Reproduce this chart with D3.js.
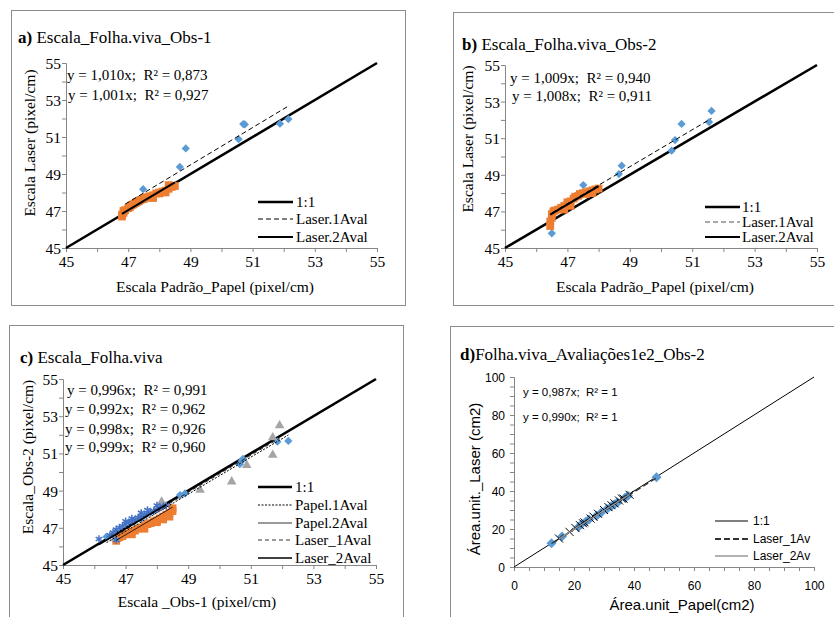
<!DOCTYPE html>
<html>
<head>
<meta charset="utf-8">
<title>Escala Folha viva</title>
<script src="https://d3js.org/d3.v7.min.js"></script>
<style>
  body { margin: 0; background: #fff; }
  svg { display: block; }
</style>
</head>
<body>
<script>
// ---- data ----
// panel a: Escala_Folha.viva_Obs-1
var aLaser1 = [[46.9,46.9],[47.2,47.5],[47.48,48.18],[48.66,49.38],[48.85,50.38],[50.55,50.88],[50.7,51.7],[50.75,51.68],[51.88,51.72],[52.15,51.97]];
var aLaser2 = [[46.8,46.7],[46.8,46.8],[46.85,46.9],[46.85,47.0],[46.9,47.05],[47.0,47.15],[47.05,47.2],[47.1,47.3],[47.15,47.35],[47.2,47.4],
  [47.25,47.45],[47.3,47.5],[47.35,47.55],[47.4,47.6],[47.5,47.65],[47.55,47.7],[47.6,47.75],[47.7,47.8],[47.8,47.85],[47.9,47.95],
  [48.0,48.0],[48.1,48.05],[48.2,48.1],[48.3,48.2],[48.4,48.3],[48.5,48.35],[48.3,48.4],[47.8,47.7],[48.0,47.95],[48.2,48.0]];
var aEq = ["y = 1,010x;  R² = 0,873", "y = 1,001x;  R² = 0,927"];
var aSlopes = [1.010, 1.001];

// panel b: Escala_Folha.viva_Obs-2
var bLaser1 = [[46.5,45.8],[47.51,48.44],[48.65,49.04],[48.74,49.5],[50.34,50.32],[50.45,50.9],[50.66,51.78],[51.54,51.88],[51.62,52.49]];
var bLaser2 = [[46.45,46.2],[46.45,46.45],[46.5,46.65],[46.5,46.85],[46.55,47.0],[46.6,47.05],[46.7,47.1],[46.8,47.2],[46.9,47.3],[47.0,47.35],
  [47.0,47.5],[47.1,47.55],[47.2,47.7],[47.25,47.8],[47.35,47.85],[47.4,47.95],[47.5,48.0],[47.6,48.05],[47.7,48.1],[47.8,48.15],
  [47.9,48.2],[48.0,48.25],[47.6,47.95],[47.8,48.0],[46.9,47.1],[47.1,47.3]];
var bEq = ["y = 1,009x;  R² = 0,940", "y = 1,008x;  R² = 0,911"];
var bSlopes = [1.009, 1.008];

// panel c: Escala_Folha.viva (Obs-1 vs Obs-2)
var cPapel1 = [[46.39,46.52],[47.5,47.5],[48.74,48.76],[48.9,48.85],[50.65,50.42],[50.71,50.6],[50.75,50.7],[51.85,51.63],[52.2,51.67]];
var cPapel2 = [[46.7,46.3],[46.75,46.45],[46.8,46.5],[46.9,46.55],[47.0,46.65],[47.1,46.7],[47.2,46.8],[47.3,46.85],[47.4,46.95],[47.5,47.0],
  [47.6,47.1],[47.7,47.2],[47.8,47.25],[47.9,47.35],[48.0,47.4],[48.1,47.5],[48.2,47.6],[48.3,47.7],[48.4,47.8],[48.5,47.9],
  [48.5,48.05],[48.4,47.6],[48.2,47.45],[48.0,47.3],[47.6,46.95],[47.2,46.65]];
var cLaser1 = [[46.66,46.42],[48.15,48.4],[49.38,49.03],[50.39,49.48],[50.87,50.37],[51.7,50.91],[51.7,51.85],[51.92,52.5]];
var cLaser2 = [[46.15,46.4],[46.7,46.35],[46.5,46.6],[46.6,46.75],[46.7,46.9],[46.8,47.0],[46.9,47.1],[47.0,47.2],[47.1,47.3],[47.2,47.35],
  [47.3,47.45],[47.4,47.55],[47.5,47.6],[47.6,47.7],[47.7,47.8],[47.8,47.85],[47.9,47.9],[48.0,48.0],[48.1,48.1],[48.2,48.15],
  [48.3,48.2],[47.5,47.8],[47.2,47.5],[48.0,48.2],[47.0,47.35],[47.7,47.95]];
var cEq = ["y = 0,996x;  R² = 0,991", "y = 0,992x;  R² = 0,962", "y = 0,998x;  R² = 0,926", "y = 0,999x;  R² = 0,960"];
var cSlopes = [0.996, 0.992, 0.998, 0.999];

// panel d: Folha.viva_Avaliações1e2_Obs-2
var dLaser1 = [[12.5,12.5],[16,16],[21.5,21],[22.5,22.5],[24,24],[25,25],[27.5,27],[29,28.5],[31,30.5],[32.5,32],[33.5,33],[34.5,34],[37,36.5],[38,37.5],[47.5,47.2]];
var dLaser2 = [[15,15],[18.5,18.5],[20.5,20.5],[22,22],[23,23],[23.5,23.5],[25.5,25.5],[26.5,26.5],[28,28],[30,30],[31.5,31.5],[32.5,32.5],[33.5,33.5],[35,35],[36,36],[36.5,36],[38.5,38]];
var dEq = ["y = 0,987x;  R² = 1", "y = 0,990x;  R² = 1"];
var dSlopes = [0.987, 0.990];

var pixTicks = [45, 47, 49, 51, 53, 55];
var areaTicks = [0, 20, 40, 60, 80, 100];

var blue = "#5B9BD5", orange = "#ED7D31", gray = "#A5A5A5", dblue = "#4472C4";
var axisGray = "#868686";
var serif = "Liberation Serif";
var sans = "Liberation Sans";

var svg = d3.select("body").append("svg").attr("width", 834).attr("height", 617);

// panel frames
var frames = [[11, 10, 394, 295], [453, 12, 390, 293], [9, 325, 394, 300], [450, 326, 390, 300]];
svg.selectAll("rect.frame").data(frames).enter().append("rect")
  .attr("class", "frame")
  .attr("x", function (d) { return d[0] + 0.5; })
  .attr("y", function (d) { return d[1] + 0.5; })
  .attr("width", function (d) { return d[2]; })
  .attr("height", function (d) { return d[3]; })
  .attr("fill", "none").attr("stroke", "#8c8c8c").attr("stroke-width", 1);

var diamond = d3.symbol().type(d3.symbolSquare).size(34);
var square = d3.symbol().type(d3.symbolSquare).size(60);
var tri = d3.symbol().type(d3.symbolTriangle).size(40);
var star = d3.symbol().type(d3.symbolAsterisk).size(40);
var cross = d3.symbol().type(d3.symbolTimes).size(44);

function panel(p) {
  var g = svg.append("g");
  var x = d3.scaleLinear().domain(p.domain).range(p.xr);
  var y = d3.scaleLinear().domain(p.domain).range(p.yr);

  // title
  var t = g.append("text").attr("x", p.title[0]).attr("y", p.title[1])
    .style("font-family", serif).style("font-size", "17px");
  t.append("tspan").style("font-weight", "bold").text(p.letter);
  t.append("tspan").text(p.titleText);

  // axes
  var xa = d3.axisBottom(x).tickValues(d3.range(p.domain[0], p.domain[1] + 0.001, p.minor)).tickSize(4)
    .tickFormat(function (d) { return p.ticks.indexOf(d) >= 0 ? d : ""; }).tickPadding(3);
  var ya = d3.axisLeft(y).tickValues(d3.range(p.domain[0], p.domain[1] + 0.001, p.minor)).tickSize(4)
    .tickFormat(function (d) { return p.ticks.indexOf(d) >= 0 ? d : ""; }).tickPadding(3);
  var gx = g.append("g").attr("transform", "translate(0," + p.yr[0] + ")").call(xa);
  var gy = g.append("g").attr("transform", "translate(" + p.xr[0] + ",0)").call(ya);
  [gx, gy].forEach(function (a) {
    a.attr("font-family", null).attr("font-size", null);
    a.select(".domain").attr("stroke", axisGray);
    a.selectAll(".tick line").attr("stroke", axisGray);
    a.selectAll("text").style("font-family", p.tickFont).style("font-size", p.tickSize + "px").attr("fill", "#000");
  });
  gx.selectAll("text").attr("dy", p.xdy);
  gy.selectAll("text").attr("dy", "0.35em").attr("x", -p.ydx);

  // axis titles
  g.append("text").attr("x", p.xt[0]).attr("y", p.xt[1]).attr("text-anchor", "middle")
    .style("font-family", p.labFont).style("font-size", p.labSize + "px").text(p.xLabel);
  g.append("text").attr("transform", "translate(" + p.yt[0] + "," + p.yt[1] + ") rotate(-90)")
    .attr("text-anchor", "middle")
    .style("font-family", p.labFont).style("font-size", p.labSize + "px").text(p.yLabel);

  // 1:1 line
  g.append("line").attr("x1", x(p.domain[0])).attr("y1", y(p.domain[0]))
    .attr("x2", x(p.domain[1])).attr("y2", y(p.domain[1]))
    .attr("stroke", "#000").attr("stroke-width", p.oneW);

  // points
  p.series.forEach(function (s) {
    var sel = g.append("g").selectAll("path").data(s.data).enter().append("path")
      .attr("d", s.sym)
      .attr("transform", function (d) {
        return "translate(" + x(d[0]) + "," + y(d[1]) + ")" + (s.rot ? " rotate(45)" : "");
      });
    if (s.stroke) sel.attr("fill", "none").attr("stroke", s.color).attr("stroke-width", s.sw || 1.2);
    else sel.attr("fill", s.color);
  });

  // trend lines y = b x over each series range
  p.series.forEach(function (s, i) {
    var ext = d3.extent(s.data, function (d) { return d[0]; });
    g.append("line").attr("x1", x(ext[0])).attr("y1", y(p.slopes[i] * ext[0]))
      .attr("x2", x(ext[1])).attr("y2", y(p.slopes[i] * ext[1]))
      .attr("stroke", s.lc).attr("stroke-width", s.lw).attr("stroke-dasharray", s.dash || null);
  });

  // equations
  g.selectAll("text.eq").data(p.eq).enter().append("text").attr("class", "eq")
    .attr("x", function (d, i) { return p.eqX[i]; })
    .attr("y", function (d, i) { return p.eqY[i]; })
    .style("font-family", p.eqFont).style("font-size", p.eqSize + "px").style("white-space", "pre")
    .text(function (d) { return d; });

  // legend
  var lg = g.selectAll("g.leg").data(p.legend).enter().append("g")
    .attr("transform", function (d, i) { return "translate(0," + p.legY[i] + ")"; });
  lg.append("line").attr("x1", p.legX[0]).attr("x2", p.legX[1])
    .attr("stroke", function (d) { return d.c; })
    .attr("stroke-width", function (d) { return d.w; })
    .attr("stroke-dasharray", function (d) { return d.dash || null; });
  lg.append("text").attr("x", p.legX[2]).attr("dy", "0.35em")
    .style("font-family", p.legFont).style("font-size", p.legSize + "px")
    .text(function (d) { return d.t; });
}

var common = {
  domain: [45, 55], minor: 1, ticks: pixTicks, tickFont: serif, tickSize: 15.5, xdy: "0.75em", ydx: 5,
  labFont: serif, labSize: 15.5, eqFont: serif, eqSize: 15, legFont: serif, legSize: 15, oneW: 2.6
};

panel(Object.assign({}, common, {
  letter: "a)", titleText: " Escala_Folha.viva_Obs-1", title: [18, 43],
  xr: [66, 377], yr: [248, 63],
  xLabel: "Escala Padrão_Papel (pixel/cm)", yLabel: "Escala Laser (pixel/cm)",
  xt: [215, 292], yt: [35, 143],
  series: [
    { data: aLaser1, sym: diamond, rot: true, color: blue, lc: "#000", lw: 1, dash: "5,3" },
    { data: aLaser2, sym: square, color: orange, lc: "#000", lw: 2 }
  ],
  slopes: aSlopes, eq: aEq, eqX: [67, 68], eqY: [80, 100],
  legend: [{ t: "1:1", c: "#000", w: 2.6 }, { t: "Laser.1Aval", c: "#000", w: 1, dash: "5,3" }, { t: "Laser.2Aval", c: "#000", w: 2 }],
  legX: [258, 293, 296], legY: [202, 219, 237]
}));

panel(Object.assign({}, common, {
  letter: "b)", titleText: " Escala_Folha.viva_Obs-2", title: [462, 50],
  xr: [505, 817], yr: [248, 65],
  xLabel: "Escala Padrão_Papel (pixel/cm)", yLabel: "Escala Laser (pixel/cm)",
  xt: [655, 292], yt: [473, 139],
  series: [
    { data: bLaser1, sym: diamond, rot: true, color: blue, lc: "#000", lw: 1, dash: "5,3" },
    { data: bLaser2, sym: square, color: orange, lc: "#000", lw: 2 }
  ],
  slopes: bSlopes, eq: bEq, eqX: [510, 512], eqY: [83, 101],
  legend: [{ t: "1:1", c: "#000", w: 2.6 }, { t: "Laser.1Aval", c: "#555", w: 1, dash: "5,3" }, { t: "Laser.2Aval", c: "#000", w: 2 }],
  legX: [705, 740, 742], legY: [207, 222, 237]
}));

panel(Object.assign({}, common, {
  letter: "c)", titleText: " Escala_Folha.viva", title: [20, 363],
  xr: [63, 376], yr: [565, 379],
  xLabel: "Escala _Obs-1 (pixel/cm)", yLabel: "Escala_Obs-2 (pixel/cm)",
  xt: [197, 607], yt: [33, 457],
  series: [
    { data: cPapel1, sym: diamond, rot: true, color: blue, lc: "#000", lw: 1, dash: "2,1.5" },
    { data: cPapel2, sym: square, color: orange, lc: "#000", lw: 0.8 },
    { data: cLaser1, sym: tri, color: gray, lc: "#000", lw: 0.8, dash: "4,3" },
    { data: cLaser2, sym: star, color: dblue, stroke: true, sw: 1.5, lc: "#000", lw: 1.6 }
  ],
  slopes: cSlopes, eq: cEq, eqX: [67, 65, 65, 65], eqY: [395, 414, 434, 452],
  legend: [{ t: "1:1", c: "#000", w: 2.6 }, { t: "Papel.1Aval", c: "#000", w: 1, dash: "2,1.5" },
           { t: "Papel.2Aval", c: "#000", w: 0.8 }, { t: "Laser_1Aval", c: "#000", w: 0.8, dash: "4,3" },
           { t: "Laser_2Aval", c: "#000", w: 1.6 }],
  legX: [258, 292, 295], legY: [487, 505, 523, 540, 558]
}));

panel({
  domain: [0, 100], minor: 5, ticks: areaTicks, tickFont: sans, tickSize: 12, xdy: "1.35em", ydx: 9,
  labFont: sans, labSize: 15, eqFont: sans, eqSize: 11.5, legFont: sans, legSize: 12, oneW: 1,
  letter: "d)", titleText: "Folha.viva_Avaliações1e2_Obs-2", title: [460, 360],
  xr: [514, 814], yr: [567, 377],
  xLabel: "Área.unit_Papel(cm2)", yLabel: "Área.unit._Laser (cm2)",
  xt: [682, 610], yt: [480, 479],
  series: [
    { data: dLaser1, sym: d3.symbol().type(d3.symbolSquare).size(50), rot: true, color: blue, lc: "#333", lw: 1.3, dash: "6,3" },
    { data: dLaser2, sym: cross, color: "#000", stroke: true, sw: 1, lc: "#999", lw: 1.2 }
  ],
  slopes: dSlopes, eq: dEq, eqX: [523, 523], eqY: [396, 421],
  legend: [{ t: "1:1", c: "#000", w: 1.2 }, { t: "Laser_1Av", c: "#333", w: 1.8, dash: "6,3" }, { t: "Laser_2Av", c: "#999", w: 1.5 }],
  legX: [715, 748, 753], legY: [521, 539, 556]
});
</script>
</body>
</html>
